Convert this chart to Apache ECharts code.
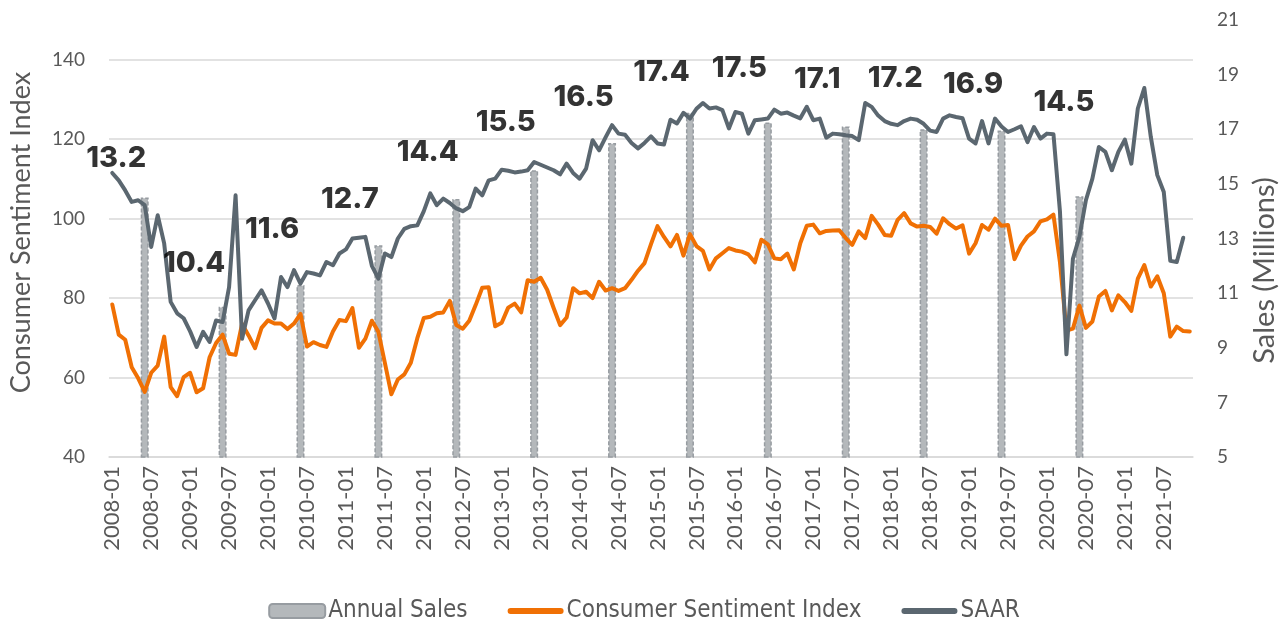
<!DOCTYPE html>
<html>
<head>
<meta charset="utf-8">
<title>Annual Sales, Consumer Sentiment and SAAR</title>
<script src="https://cdn.jsdelivr.net/npm/echarts@6/dist/echarts.min.js"></script>
<style>
    html, body {
        margin: 0;
        padding: 0;
        background: #fff;
    }
    #chart {
        width: 1288px;
        height: 623px;
    }
</style>
</head>
<body>
<div id="chart"></div>
<script>
// months 2008-01 .. 2021-11
const months = [];
for (let y = 2008; y <= 2021; y++) {
    for (let m = 1; m <= 12; m++) {
        if (y === 2021 && m > 11) break;
        months.push(y + '-' + String(m).padStart(2, '0'));
    }
}

// Consumer Sentiment Index, monthly
const sentiment = [
    78.4, 70.8, 69.5, 62.6, 59.8, 56.4, 61.2, 63.0, 70.3, 57.6, 55.3, 60.1,
    61.2, 56.3, 57.3, 65.1, 68.7, 70.8, 66.0, 65.7, 73.5, 70.6, 67.4, 72.5,
    74.4, 73.6, 73.6, 72.2, 73.6, 76.0, 67.8, 68.9, 68.2, 67.7, 71.6, 74.5,
    74.2, 77.5, 67.5, 69.8, 74.3, 71.5, 63.7, 55.8, 59.5, 60.8, 63.7, 69.9,
    75.0, 75.3, 76.2, 76.4, 79.3, 73.2, 72.3, 74.3, 78.3, 82.6, 82.7, 72.9,
    73.8, 77.6, 78.6, 76.4, 84.5, 84.1, 85.1, 82.1, 77.5, 73.2, 75.1, 82.5,
    81.2, 81.6, 80.0, 84.1, 81.9, 82.5, 81.8, 82.5, 84.6, 86.9, 88.8, 93.6,
    98.1, 95.4, 93.0, 95.9, 90.7, 96.1, 93.1, 91.9, 87.2, 90.0, 91.3, 92.6,
    92.0, 91.7, 91.0, 89.0, 94.7, 93.5, 90.0, 89.8, 91.2, 87.2, 93.8, 98.2,
    98.5, 96.3, 96.9, 97.0, 97.1, 95.1, 93.4, 96.8, 95.1, 100.7, 98.5, 95.9,
    95.7, 99.7, 101.4, 98.8, 98.0, 98.2, 97.9, 96.2, 100.1, 98.6, 97.5, 98.3,
    91.2, 93.8, 98.4, 97.2, 100.0, 98.2, 98.4, 89.8, 93.2, 95.5, 96.8, 99.3,
    99.8, 101.0, 89.1, 71.8, 72.3, 78.1, 72.5, 74.1, 80.4, 81.8, 76.9, 80.7,
    79.0, 76.8, 84.9, 88.3, 82.9, 85.5, 81.2, 70.3, 72.8, 71.7, 71.6
];

// SAAR, millions, monthly (ends 2021-10)
const saar = [
    15.4, 15.13, 14.76, 14.34, 14.4, 14.22, 12.69, 13.85, 12.82, 10.68, 10.26, 10.08,
    9.6, 9.03, 9.58, 9.21, 10.0, 9.94, 11.22, 14.58, 9.33, 10.37, 10.74, 11.1,
    10.62, 10.07, 11.59, 11.22, 11.84, 11.35, 11.77, 11.72, 11.65, 12.14, 12.02, 12.45,
    12.6, 13.0, 13.03, 13.06, 12.0, 11.53, 12.45, 12.32, 13.0, 13.35, 13.45, 13.48,
    14.0, 14.65, 14.22, 14.46, 14.3, 14.1, 14.0, 14.15, 14.83, 14.58, 15.13, 15.19,
    15.52, 15.48, 15.42, 15.45, 15.5, 15.8, 15.7, 15.6, 15.5, 15.35, 15.74, 15.4,
    15.19, 15.56, 16.6, 16.23, 16.7, 17.15, 16.84, 16.8, 16.5, 16.3, 16.5, 16.74,
    16.48, 16.44, 17.35, 17.21, 17.6, 17.39, 17.75, 17.96, 17.76, 17.8, 17.7, 17.03,
    17.63, 17.57, 16.84, 17.33, 17.36, 17.39, 17.72, 17.57, 17.61, 17.5, 17.4, 17.82,
    17.33, 17.39, 16.69, 16.84, 16.82, 16.78, 16.75, 16.6, 17.96, 17.82, 17.5, 17.3,
    17.2, 17.15, 17.3, 17.39, 17.35, 17.2, 16.95, 16.9, 17.39, 17.51, 17.45, 17.4,
    16.66, 16.48, 17.3, 16.48, 17.39, 17.1, 16.9, 17.0, 17.11, 16.53, 17.08, 16.66,
    16.84, 16.82, 14.0, 8.76, 12.26, 13.06, 14.4, 15.19, 16.35, 16.17, 15.5, 16.17,
    16.62, 15.74, 17.76, 18.51, 16.72, 15.32, 14.7, 12.18, 12.14, 13.03
];

// Annual Sales bars (drawn at June of each year)
const years = ['2008', '2009', '2010', '2011', '2012', '2013', '2014',
    '2015', '2016', '2017', '2018', '2019', '2020'];
const annualBars = [14.5, 10.5, 11.3, 12.75, 14.45, 15.5, 16.5, 17.6, 17.25, 17.1, 17.0, 16.95, 14.55];
const annualLabels = ['13.2', '10.4', '11.6', '12.7', '14.4', '15.5', '16.5',
    '17.4', '17.5', '17.1', '17.2', '16.9', '14.5'];

// where the annual labels sit (month, height on the sales axis)
const labelMonths = ['2008-02', '2009-02', '2010-02', '2011-02', '2012-02', '2013-02', '2014-02',
    '2015-02', '2016-02', '2017-02', '2018-02', '2019-02', '2020-04'];
const labelHeights = [15.92, 12.11, 13.34, 14.44, 16.14, 17.24, 18.17, 19.09, 19.23, 18.83, 18.88, 18.65, 17.97];

const tickFont = 'Lato, "Open Sans", sans-serif';
const gray = '#595959';
// rounded bar used as the legend icon of the two lines
const lineIcon = 'path://M3,0 H53 A3,3 0 0 1 53,6 H3 A3,3 0 0 1 3,0 Z';

const chart = echarts.init(document.getElementById('chart'));
chart.setOption({
    animation: false,
    grid: {
        left: 109,
        right: 95,
        top: 20,
        bottom: 166
    },
    legend: {
        top: 594,
        left: 'center',
        itemWidth: 56,
        itemHeight: 14,
        itemGap: 40,
        textStyle: {
            fontFamily: '"Liberation Sans Narrow", "DejaVu Sans Condensed", sans-serif',
            fontSize: 24,
            color: gray,
            padding: [0, 0, 0, -2]
        },
        data: [
            { name: 'Annual Sales' },
            { name: 'Consumer Sentiment Index', icon: lineIcon },
            { name: 'SAAR', icon: lineIcon }
        ]
    },
    xAxis: {
        type: 'category',
        data: months,
        axisLine: { lineStyle: { color: '#d9d9d9', width: 1.5 } },
        axisTick: { interval: 5, length: 7, lineStyle: { color: '#d9d9d9', width: 1.5 } },
        axisLabel: {
            interval: 5,
            rotate: 90,
            margin: 9,
            fontFamily: tickFont,
            fontSize: 22,
            color: gray
        }
    },
    yAxis: [
        {
            type: 'value',
            min: 40,
            max: 150,
            interval: 20,
            name: 'Consumer Sentiment Index',
            nameLocation: 'middle',
            nameGap: 74,
            nameTextStyle: {
                fontFamily: tickFont,
                fontSize: 27,
                color: gray,
                padding: [0, 0, 0, 12]
            },
            axisLine: { show: false },
            axisTick: { show: false },
            axisLabel: {
                showMaxLabel: false,
                margin: 24,
                fontFamily: tickFont,
                fontSize: 19,
                color: gray
            },
            splitLine: {
                showMaxLine: false,
                lineStyle: { color: '#d9d9d9', width: 1.5 }
            }
        },
        {
            type: 'value',
            min: 5,
            max: 21,
            interval: 2,
            name: 'Sales (Millions)',
            nameLocation: 'middle',
            nameGap: 52,
            nameTextStyle: {
                fontFamily: tickFont,
                fontSize: 29,
                color: gray,
                padding: [0, 64, 0, 0]
            },
            axisLine: { show: false },
            axisTick: { show: false },
            splitLine: { show: false },
            axisLabel: {
                margin: 24,
                fontFamily: tickFont,
                fontSize: 19,
                color: gray
            }
        }
    ],
    series: [
        {
            name: 'Annual Sales',
            type: 'bar',
            yAxisIndex: 1,
            barWidth: 8,
            itemStyle: {
                color: '#b4b8bb',
                borderColor: '#979ca1',
                borderWidth: 1.5,
                borderType: [4, 2]
            },
            data: years.map((y, i) => [y + '-06', annualBars[i]])
        },
        {
            name: 'Consumer Sentiment Index',
            type: 'line',
            symbol: 'none',
            color: '#f07004',
            lineStyle: { width: 4, join: 'round', cap: 'round' },
            data: sentiment
        },
        {
            name: 'SAAR',
            type: 'line',
            yAxisIndex: 1,
            symbol: 'none',
            color: '#5b6770',
            lineStyle: { width: 4, join: 'round', cap: 'round' },
            data: saar
        },
        {
            // annual sales labels
            name: 'labels',
            type: 'scatter',
            yAxisIndex: 1,
            symbolSize: 0,
            silent: true,
            z: 10,
            label: {
                show: true,
                position: 'inside',
                offset: [-2.5, 0],
                formatter: p => annualLabels[p.dataIndex],
                fontFamily: 'Inter, "Noto Sans", sans-serif',
                fontWeight: 800,
                fontSize: 29,
                color: '#000'
            },
            data: labelMonths.map((m, i) => [m, labelHeights[i]])
        }
    ]
});
</script>
</body>
</html>
